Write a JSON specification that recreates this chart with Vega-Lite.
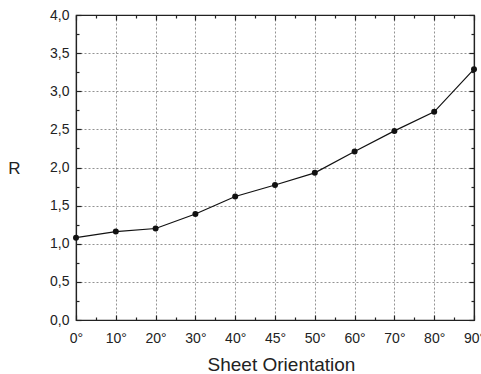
{
  "$schema": "https://vega.github.io/schema/vega-lite/v6.json",
  "width": 398,
  "height": 305,
  "autosize": "none",
  "padding": {"left": 76, "top": 15, "right": 7, "bottom": 54},
  "config": {
    "view": {"stroke": "#222", "strokeWidth": 1.2},
    "font": "Liberation Sans",
    "axis": {"labelFont": "Liberation Sans", "titleFont": "Liberation Sans", "labelColor": "#222", "titleColor": "#222", "domainColor": "#222", "tickColor": "#222", "titleFontWeight": "normal"}
  },
  "data": {"values": [
    {"pos": 0, "angle": "0°", "R": 1.08},
    {"pos": 1, "angle": "10°", "R": 1.16},
    {"pos": 2, "angle": "20°", "R": 1.2},
    {"pos": 3, "angle": "30°", "R": 1.39},
    {"pos": 4, "angle": "40°", "R": 1.62},
    {"pos": 5, "angle": "45°", "R": 1.77},
    {"pos": 6, "angle": "50°", "R": 1.93},
    {"pos": 7, "angle": "60°", "R": 2.21},
    {"pos": 8, "angle": "70°", "R": 2.48},
    {"pos": 9, "angle": "80°", "R": 2.73},
    {"pos": 10, "angle": "90°", "R": 3.29}
  ]},
  "resolve": {"axis": {"x": "independent", "y": "independent"}},
  "layer": [
    {
      "mark": {"type": "line", "color": "#111", "strokeWidth": 1.2},
      "encoding": {
        "x": {"field": "pos", "type": "quantitative", "scale": {"domain": [0, 10], "nice": false},
          "axis": {"orient": "bottom", "title": "Sheet Orientation", "titleFontSize": 19, "titlePadding": 8, "titleX": 205,
            "values": [0,0.5,1,1.5,2,2.5,3,3.5,4,4.5,5,5.5,6,6.5,7,7.5,8,8.5,9,9.5,10],
            "labelExpr": "datum.value % 1 == 0 ? ['0°','10°','20°','30°','40°','45°','50°','60°','70°','80°','90°'][datum.value] : ''",
            "labelFontSize": 14, "labelPadding": 16, "labelFlush": false, "labelOverlap": false,
            "tickSize": {"condition": {"test": "datum.value % 1 == 0", "value": -5}, "value": -3},
            "tickWidth": 1.2, "domainWidth": 1.2,
            "grid": true, "gridDash": [2, 2], "gridColor": "#777", "gridWidth": 0.8,
            "gridOpacity": {"condition": {"test": "datum.value % 1 == 0", "value": 1}, "value": 0}}},
        "y": {"field": "R", "type": "quantitative", "scale": {"domain": [0, 4], "nice": false},
          "axis": {"orient": "left", "title": "R", "titleAngle": 0, "titleFontSize": 17, "titleX": -62, "titleY": 153, "titleBaseline": "middle", "titleAlign": "center",
            "values": [0,0.25,0.5,0.75,1,1.25,1.5,1.75,2,2.25,2.5,2.75,3,3.25,3.5,3.75,4],
            "labelExpr": "datum.value % 0.5 == 0 ? replace(format(datum.value, '.1f'), '.', ',') : ''",
            "labelFontSize": 14, "labelPadding": 12, "labelFlush": false, "labelOverlap": false,
            "tickSize": {"condition": {"test": "datum.value % 0.5 == 0", "value": -5}, "value": -3},
            "tickWidth": 1.2, "domainWidth": 1.2,
            "grid": true, "gridDash": [2, 2], "gridColor": "#777", "gridWidth": 0.8,
            "gridOpacity": {"condition": {"test": "datum.value % 0.5 == 0 && datum.value > 0 && datum.value < 4", "value": 1}, "value": 0}}}
      }
    },
    {
      "mark": {"type": "point", "filled": true, "color": "#111", "size": 36, "opacity": 1},
      "encoding": {
        "x": {"field": "pos", "type": "quantitative",
          "axis": {"orient": "top", "title": null, "labels": false, "grid": false,
            "values": [0,0.5,1,1.5,2,2.5,3,3.5,4,4.5,5,5.5,6,6.5,7,7.5,8,8.5,9,9.5,10],
            "tickSize": {"condition": {"test": "datum.value % 1 == 0", "value": -5}, "value": -3},
            "tickWidth": 1.2, "domainWidth": 1.2}},
        "y": {"field": "R", "type": "quantitative",
          "axis": {"orient": "right", "title": null, "labels": false, "grid": false,
            "values": [0,0.25,0.5,0.75,1,1.25,1.5,1.75,2,2.25,2.5,2.75,3,3.25,3.5,3.75,4],
            "tickSize": {"condition": {"test": "datum.value % 0.5 == 0", "value": -5}, "value": -3},
            "tickWidth": 1.2, "domainWidth": 1.2}}
      }
    }
  ]
}
